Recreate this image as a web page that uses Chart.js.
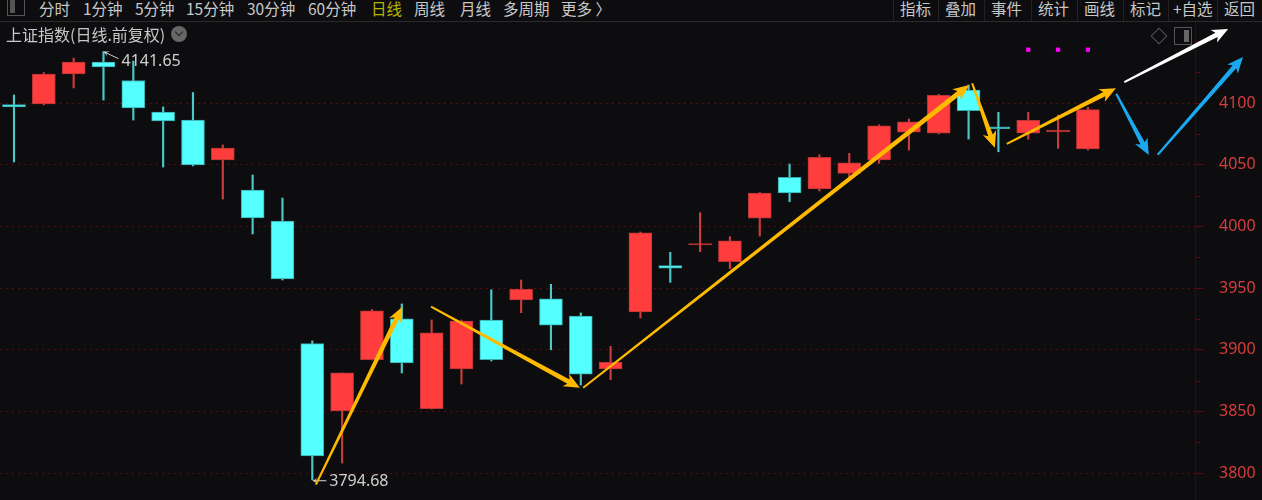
<!DOCTYPE html>
<html>
<head>
<meta charset="utf-8">
<title>上证指数</title>
<script src="https://cdn.jsdelivr.net/npm/chart.js@4/dist/chart.umd.min.js"></script>
<style>
html, body { margin: 0; padding: 0; background: #0d0d10; }
#wrap { position: relative; width: 1262px; height: 500px; overflow: hidden; font-family: "Noto Sans CJK SC", sans-serif; }
#chart { position: absolute; left: 0; top: 0; }
#bar { position: absolute; left: 0; top: 0; width: 1262px; height: 21px; border-bottom: 1px solid #2b2b2e; background: #0d0d10; }
#bar span { position: absolute; top: -3px; font-size: 15.5px; line-height: 22px; color: #c8c8c8; white-space: nowrap; }
#bar span.on { color: #b4b400; }
#bar i { position: absolute; top: 0; width: 1px; height: 21px; background: #232326; }
#title { position: absolute; left: 6px; top: 23px; font-size: 16px; line-height: 22px; color: #c8c8c8; white-space: nowrap; }
#more { position: absolute; left: 171px; top: 26px; width: 16px; height: 16px; border-radius: 50%; background: #666; }
#more:after { content: ""; position: absolute; left: 4.5px; top: 3px; width: 5px; height: 5px; border-right: 1.5px solid #222; border-bottom: 1.5px solid #222; transform: rotate(45deg); }
#left-icon { position: absolute; left: 7px; top: -1px; width: 16px; height: 15px; border: 1px solid #555; }
#left-icon:after { content: ""; position: absolute; left: 2px; top: 0; width: 5px; height: 13px; background: #555; }
#diamond { position: absolute; left: 1153px; top: 30px; width: 10px; height: 10px; border: 1px solid #555; transform: rotate(45deg); }
#panel { position: absolute; left: 1174px; top: 27px; width: 16px; height: 16px; border: 1px solid #555; }
#panel:after { content: ""; position: absolute; right: 2px; top: 2px; width: 5px; height: 12px; background: #666; }
</style>
</head>
<body>
<div id="wrap">
  <canvas id="chart" width="1262" height="500"></canvas>
  <div id="bar"></div>
  <div id="left-icon"></div>
  <div id="title">上证指数(日线.前复权)</div>
  <div id="more"></div>
  <div id="diamond"></div>
  <div id="panel"></div>
</div>
<script>
// --- candle values ---
const opens = [4098.8, 4099.2, 4123.5, 4133.2, 4118.2, 4092.7, 4086.2, 4053.8, 4029.5, 4004.4, 3905, 3850.5, 3892, 3925.2, 3852.3, 3884.5, 3924.2, 3940.4, 3941.4, 3927.4, 3884.5, 3930.7, 3968.2, 3985, 3971.4, 4006.6, 4039.8, 4030.3, 4043, 4053.8, 4076.3, 4075.5, 4110.5, 4080.6, 4075.5, 4076.5, 4062.7];
const closes = [4096.8, 4123.5, 4133.2, 4129.2, 4096, 4085.4, 4049.8, 4063.5, 4006.8, 3957.4, 3814, 3881.3, 3931.7, 3889.4, 3913.7, 3923.4, 3892, 3949.1, 3920.1, 3880.4, 3889.9, 3994.9, 3966.1, 3986.2, 3988.4, 4027.1, 4027.1, 4056, 4051.6, 4081.6, 4084.8, 4106.2, 4093.8, 4079.3, 4086, 4078.1, 4094.6];
const highs = [4106.5, 4124.7, 4136.5, 4141.65, 4134, 4096.8, 4108.5, 4066, 4041.7, 4023, 3907.2, 3881.3, 3932.7, 3937.2, 3924.2, 3924.2, 3948.7, 3956.6, 3953.1, 3929.9, 3902.9, 3995.5, 3979, 4011.1, 3991.7, 4027.5, 4050.6, 4058.1, 4059.2, 4082.4, 4087, 4107, 4114.6, 4092.5, 4092.5, 4090.3, 4096.5];
const lows = [4052.2, 4098.4, 4112.2, 4102.4, 4086.2, 4048.1, 4049, 4022.2, 3993.9, 3956.6, 3794.68, 3808.3, 3891.8, 3881.3, 3852, 3872.3, 3891, 3930.1, 3900.1, 3871.5, 3875.8, 3925.8, 3954.7, 3979.5, 3965.8, 3992.2, 4020, 4028.7, 4039.2, 4051.1, 4061.9, 4074.9, 4070.8, 4060.5, 4070.6, 4063.3, 4061.9];

const yTicks = [3800, 3850, 3900, 3950, 4000, 4050, 4100];
const yMinorTicks = [3825, 3875, 3925, 3975, 4025, 4075, 4125, 4150];

// hand drawn arrows: [from candle, from value, to candle, to value]
const yellowArrows = [
    [10.12, 3790.8, 13.02, 3935],
    [13.98, 3935, 18.97, 3869.3],
    [19.08, 3869.3, 32.02, 4114.6],
    [32.12, 4116, 32.88, 4063.8],
    [33.28, 4066.8, 36.94, 4111.9]
];
const whiteArrows = [[37.22, 4117, 40.7, 4160]];
const blueArrows = [
    [36.95, 4107.5, 38.04, 4057.9],
    [38.34, 4058.1, 41.2, 4137.3]
];

// the three magenta markers above the last candles
const markerCandles = [34, 35, 36];
const markerValues = [4143.2, 4143.2, 4143.2];

const navLeft = [['分时', 39], ['1分钟', 83], ['5分钟', 135], ['15分钟', 186], ['30分钟', 247], ['60分钟', 308], ['日线', 371], ['周线', 414], ['月线', 460], ['多周期', 503], ['更多 〉', 561]];
const navRight = [['指标', 900], ['叠加', 945], ['事件', 991], ['统计', 1038], ['画线', 1084], ['标记', 1130], ['+自选', 1173], ['返回', 1224]];

const RED = '#ff3d3d', CYAN = '#54ffff';
const isUp = i => closes[i] >= opens[i];

const bar = document.getElementById('bar');
navLeft.concat(navRight).forEach(([text, left]) => {
    const el = document.createElement('span');
    el.textContent = text;
    el.style.left = left + 'px';
    if (text === '日线') el.className = 'on';
    bar.appendChild(el);
});
[893, 938, 984, 1031, 1077, 1123, 1168, 1217].forEach(left => {
    const el = document.createElement('i');
    el.style.left = left + 'px';
    bar.appendChild(el);
});

// tapered arrow, thin at the tail and thick behind the head
function drawArrow(ctx, x0, y0, x1, y1, color, tail, neck, headLen, headHalf) {
    const a = Math.atan2(y1 - y0, x1 - x0);
    const len = Math.hypot(x1 - x0, y1 - y0);
    ctx.save();
    ctx.translate(x0, y0);
    ctx.rotate(a);
    ctx.fillStyle = color;
    ctx.beginPath();
    ctx.moveTo(0, -tail);
    ctx.lineTo(len - headLen + 3, -neck);
    ctx.lineTo(len - headLen, -headHalf);
    ctx.lineTo(len, 0);
    ctx.lineTo(len - headLen, headHalf);
    ctx.lineTo(len - headLen + 3, neck);
    ctx.lineTo(0, tail);
    ctx.closePath();
    ctx.fill();
    ctx.restore();
}

const overlay = {
    id: 'overlay',
    afterDatasetsDraw(chart) {
        const { ctx, scales: { x, y } } = chart;
        const px = c => x.getPixelForValue(c);
        const py = v => y.getPixelForValue(v);

        // short minor ticks next to the price axis
        ctx.save();
        ctx.fillStyle = '#5a0c0c';
        yMinorTicks.forEach(v => ctx.fillRect(x.right + 1, Math.round(py(v)), 4, 1));
        ctx.restore();

        // high and low labels with their little pointers
        const hi = highs.indexOf(Math.max(...highs));
        const lo = lows.indexOf(Math.min(...lows));
        ctx.save();
        ctx.font = '16px "Noto Sans", sans-serif';
        ctx.textBaseline = 'middle';
        ctx.fillStyle = '#d0d0d0';
        ctx.fillText(highs[hi].toFixed(2), px(hi) + 18, py(highs[hi]) + 10);
        ctx.fillText(lows[lo].toFixed(2), px(lo) + 17, py(lows[lo]) + 2);
        ctx.restore();
        drawArrow(ctx, px(hi) + 15, py(highs[hi]) + 7, px(hi), py(highs[hi]), '#d8d8d8', 0.5, 0.5, 6, 3);
        drawArrow(ctx, px(lo) + 14, py(lows[lo]) + 1, px(lo), py(lows[lo]) + 1, '#d8d8d8', 0.5, 0.5, 6, 3);

        const put = (list, color) => list.forEach(([c0, v0, c1, v1]) => {
            drawArrow(ctx, px(c0), py(v0), px(c1), py(v1), color, 1, 2.4, 16, 7);
        });
        put(yellowArrows, '#ffba00');
        put(whiteArrows, '#ffffff');
        put(blueArrows, '#1aa9f0');
    }
};

new Chart(document.getElementById('chart'), {
    type: 'bar',
    data: {
        datasets: [
            {
                label: 'wick',
                order: 2,
                data: highs.map((h, i) => ({ x: i, y: [lows[i], h] })),
                backgroundColor: highs.map((h, i) => isUp(i) ? '#c83c3c' : '#4cc8c8'),
                barThickness: 1.5,
                grouped: false
            },
            {
                label: 'body',
                order: 1,
                data: opens.map((o, i) => ({ x: i, y: [o, closes[i]] })),
                backgroundColor: opens.map((o, i) => isUp(i) ? RED : CYAN),
                borderColor: opens.map((o, i) => isUp(i) ? '#b83535' : '#3aa8a8'),
                borderWidth: 1,
                borderSkipped: false,
                barThickness: 23,
                grouped: false
            },
            {
                type: 'scatter',
                label: 'marker',
                order: 0,
                data: markerCandles.map((c, i) => ({ x: c, y: markerValues[i] })),
                backgroundColor: '#ff00ff',
                borderWidth: 0,
                pointStyle: 'rect',
                pointRadius: 3
            }
        ]
    },
    options: {
        responsive: false,
        animation: false,
        events: [],
        layout: { padding: 0, autoPadding: false },
        plugins: { legend: { display: false }, tooltip: { enabled: false } },
        scales: {
            x: {
                type: 'linear',
                offset: false,
                min: -0.469,
                max: 39.59,
                display: false,
                grid: { display: false }
            },
            y: {
                position: 'right',
                min: 3778.36,
                max: 4183.45,
                afterFit(scale) {
                    scale.width = 67;
                    scale.paddingTop = 0;
                    scale.paddingBottom = 0;
                },
                afterBuildTicks(scale) { scale.ticks = yTicks.map(value => ({ value })); },
                border: { color: '#3c0a0a', width: 1, dash: [2, 4] },
                grid: {
                    color: '#5a0c0c',
                    tickColor: '#5a0c0c',
                    tickBorderDash: [],
                    tickLength: 8
                },
                ticks: {
                    color: '#d83c3c',
                    padding: 16,
                    font: { family: '"Noto Sans", sans-serif', size: 16 },
                    callback: v => String(v)
                }
            }
        }
    },
    plugins: [overlay]
});
</script>
</body>
</html>
